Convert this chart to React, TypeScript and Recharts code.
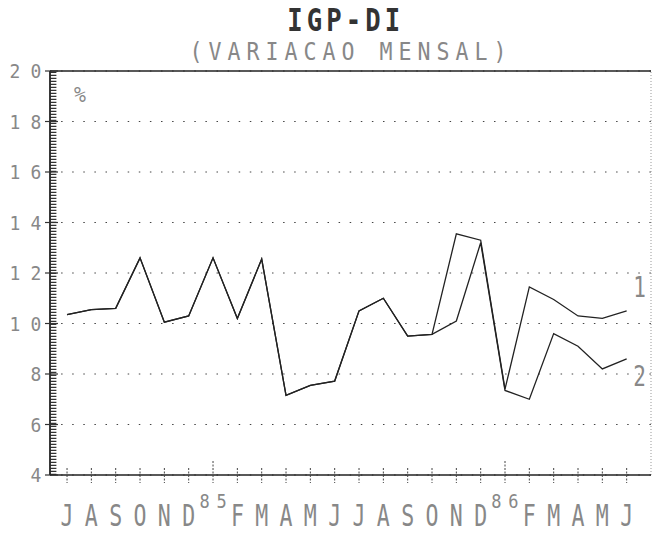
import React from 'react'
import { LineChart, Line, XAxis, YAxis, CartesianGrid, ReferenceLine } from 'recharts'

// Jul/84 .. Jun/86, year marker replaces January
const MONTHS = ['J', 'A', 'S', 'O', 'N', 'D', '85', 'F', 'M', 'A', 'M', 'J',
  'J', 'A', 'S', 'O', 'N', 'D', '86', 'F', 'M', 'A', 'M', 'J']
const SERIES_1 = [10.35, 10.55, 10.6, 12.6, 10.05, 10.3, 12.6, 10.2, 12.55, 7.15, 7.55, 7.72,
  10.5, 11.0, 9.5, 9.57, 13.55, 13.3, 7.4, 11.45, 10.95, 10.3, 10.2, 10.5]
const SERIES_2 = [10.35, 10.55, 10.6, 12.6, 10.05, 10.3, 12.6, 10.2, 12.55, 7.15, 7.55, 7.72,
  10.5, 11.0, 9.5, 9.57, 10.1, 13.2, 7.35, 7.0, 9.6, 9.1, 8.2, 8.6]
const SERIES_NAMES = ['1', '2']
const Y_TICKS = [4, 6, 8, 10, 12, 14, 16, 18, 20]
const TITLE = 'IGP-DI'
const SUBTITLE = '(VARIACAO MENSAL)'
const UNIT = '%'

const data = MONTHS.map((m, i) => ({ i, label: m, s1: SERIES_1[i], s2: SERIES_2[i] }))
const monthTicks = MONTHS.map((_, i) => i)

const FONT = '"DejaVu Sans Mono", monospace'
const INK = '#222'
const TEXT = '#888'

function CharRow({ text, x0, pitch, y, size, sx = 1, weight = 400, fill = TEXT }: any) {
  const xs = Array.from(text as string).map((_, k) => ((x0 + k * pitch) / sx).toFixed(1)).join(' ')
  return (
    <text x={xs} y={y} transform={`scale(${sx},1)`} textAnchor="middle"
      fontFamily={FONT} fontSize={size} fontWeight={weight} fill={fill}>
      {text}
    </text>
  )
}

function MonthTick({ x, y, payload }: any) {
  const label = MONTHS[payload.value] ?? ''
  const year = label.length > 1
  return (
    <g>
      <line x1={x} x2={x} y1={y - (year ? 14 : 7)} y2={y + 8} stroke="#444" strokeWidth={1} strokeDasharray="2 1.5" />
      {year
        ? <CharRow text={label} x0={x - 8.5} pitch={17} y={y + 33} size={20} sx={0.85} />
        : <CharRow text={label} x0={x} pitch={0} y={y + 51} size={30} sx={0.72} />}
    </g>
  )
}

// major tick crosses the axis, minor hatching drawn beside it
function ValueTick({ x, y, payload }: any) {
  const s = String(payload.value)
  const n = s.length
  return (
    <g>
      <line x1={x - 5} x2={x + 8} y1={y} y2={y} stroke="#333" strokeWidth={1.2} />
      <CharRow text={s} x0={x - 14 - (n - 1) * 21} pitch={21} y={y + 7.5} size={20} sx={0.9} />
    </g>
  )
}

function endLabel(name: string, dy: number) {
  return (p: any) => {
    if (p.index !== MONTHS.length - 1) return <g key={p.index} />
    return (
      <g key={p.index}>
        <CharRow text={name} x0={p.cx + 13} pitch={0} y={p.cy + dy} size={28} sx={0.75} />
      </g>
    )
  }
}

export default function App() {
  return (
    <div style={{ position: 'absolute', left: 0, top: 0, width: 653, height: 533, background: '#fff' }}>
      <LineChart width={653} height={533} data={data} margin={{ top: 71, right: 2, bottom: 0, left: 0 }}>
        <CartesianGrid vertical={false} stroke="#444" strokeDasharray="1.5 9.6" />
        <XAxis
          dataKey="i" type="number" domain={[-0.7, 24]} allowDataOverflow
          ticks={monthTicks} interval={0} height={58}
          tickSize={0} tickMargin={0} tickLine={false}
          axisLine={{ stroke: '#222', strokeWidth: 1.6 }}
          tick={<MonthTick />}
        />
        <YAxis
          domain={[4, 20]} ticks={Y_TICKS} interval={0} width={50}
          tickSize={0} tickMargin={0} tickLine={false}
          axisLine={{ stroke: '#222', strokeWidth: 1.8 }}
          tick={<ValueTick />}
        />
        <ReferenceLine x={-0.56} stroke="#333" strokeWidth={6} strokeDasharray="1.2 1.8" ifOverflow="visible" />
        <ReferenceLine y={20} stroke="#222" strokeWidth={1.5} />
        <ReferenceLine x={24} stroke="#999" strokeDasharray="1 2" />
        <Line
          dataKey="s1" type="linear" stroke={INK} strokeWidth={1.3}
          dot={endLabel(SERIES_NAMES[0], -14)} activeDot={false} isAnimationActive={false}
        />
        <Line
          dataKey="s2" type="linear" stroke={INK} strokeWidth={1.3}
          dot={endLabel(SERIES_NAMES[1], 27)} activeDot={false} isAnimationActive={false}
        />
      </LineChart>
      <svg width={653} height={533} style={{ position: 'absolute', left: 0, top: 0, pointerEvents: 'none' }}>
        <CharRow text={TITLE} x0={295} pitch={19.5} y={31} size={32} sx={0.8} weight={700} fill="#333" />
        <CharRow text={SUBTITLE} x0={196} pitch={19} y={60} size={24} sx={0.9} />
        <CharRow text={UNIT} x0={80} pitch={0} y={102} size={22} sx={0.9} />
      </svg>
    </div>
  )
}
